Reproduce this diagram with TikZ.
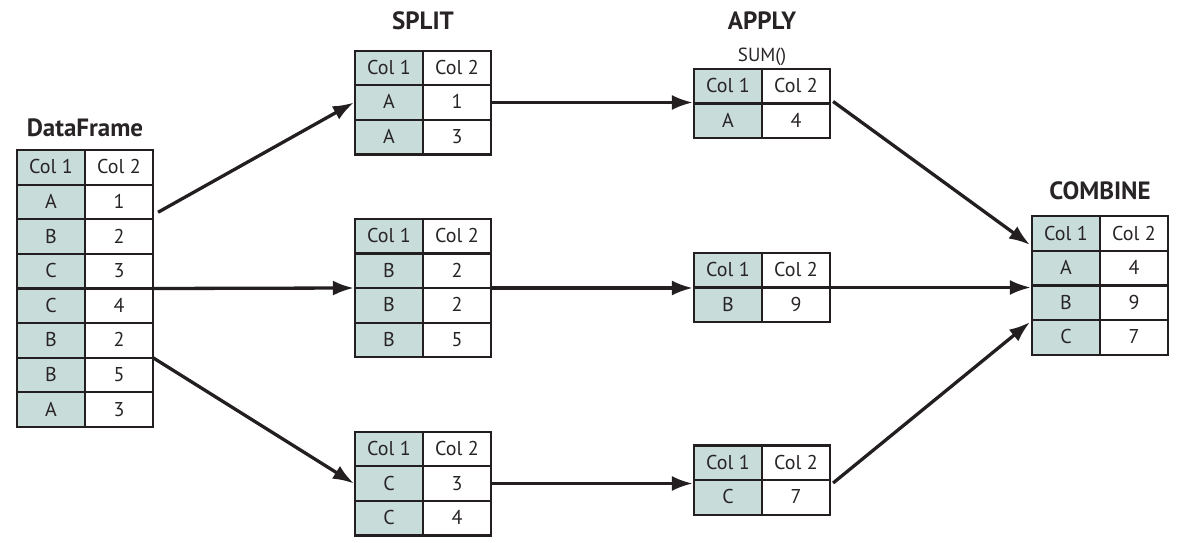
\documentclass[tikz,border=0pt]{standalone}
\usepackage{fontspec}
\setmainfont{PT Sans}
\usetikzlibrary{matrix,arrows.meta,positioning}

\definecolor{keyfill}{RGB}{200,220,218}
\definecolor{inkline}{RGB}{35,31,32}
\definecolor{inktext}{RGB}{40,36,38}

\tikzset{
  cell/.style={draw=inkline, line width=2.2pt, minimum width=68pt, minimum height=34.6pt,
    text height=14pt, text depth=1pt,
    inner sep=0pt, outer sep=0pt, text=inktext, font=\fontsize{20}{23}\selectfont},
  frame/.style={matrix of nodes, nodes={cell}, column sep=-2.2pt, row sep=-2.2pt,
    inner sep=0pt, outer sep=0pt, column 1/.style={nodes={fill=keyfill}}},
  flow/.style={draw=inkline, line width=3.3pt, -{Latex[length=21pt,width=15pt]}},
  heading/.style={anchor=base, text=inktext, font=\fontsize{25}{28}\selectfont\bfseries},
  opname/.style={anchor=base, text=inktext, font=\fontsize{19}{21}\selectfont}
}

\begin{document}
\begin{tikzpicture}[x=1pt,y=-1pt]
\useasboundingbox (0,0) rectangle (1187,543);

% input frame
\matrix (df) [frame] at (85,288.5) {
Col 1 & Col 2 \\
A & 1 \\
B & 2 \\
C & 3 \\
C & 4 \\
B & 2 \\
B & 5 \\
A & 3 \\
};
\node[heading] (dfT) at (85,136) {DataFrame};

% split
\matrix (splitA) [frame] at (423,102.5) {
Col 1 & Col 2 \\
A & 1 \\
A & 3 \\
};
\matrix (splitB) [frame] at (423,288) {
Col 1 & Col 2 \\
B & 2 \\
B & 2 \\
B & 5 \\
};
\matrix (splitC) [frame] at (423,483.5) {
Col 1 & Col 2 \\
C & 3 \\
C & 4 \\
};
\node[heading] (splitT) at (423,30) {SPLIT};

% apply
\matrix (applyA) [frame] at (762,103.5) {
Col 1 & Col 2 \\
A & 4 \\
};
\matrix (applyB) [frame] at (762,287.5) {
Col 1 & Col 2 \\
B & 9 \\
};
\matrix (applyC) [frame] at (762,480) {
Col 1 & Col 2 \\
C & 7 \\
};
\node[heading] (applyT) at (762,30) {APPLY};
\node[opname] (sumT) at (762,62) {SUM()};

% combine
\matrix (comb) [frame] at (1100,285.5) {
Col 1 & Col 2 \\
A & 4 \\
B & 9 \\
C & 7 \\
};
\node[heading] (combT) at (1100,199) {COMBINE};

% arrows
\draw[flow] ([shift={(5,-7)}]df-2-2.south east) -- (splitA.west);
\draw[flow] (df.east) -- (splitB.west);
\draw[flow] (df-6-2.south east) -- (splitC.west);

\draw[flow] (splitA.east) -- (applyA.west |- splitA.east);
\draw[flow] (splitB.east) -- (applyB.west |- splitB.east);
\draw[flow] (splitC.east) -- (applyC.west |- splitC.east);

\draw[flow] ([shift={(2,-2)}]applyA.east) -- ([shift={(-2,-6)}]comb-2-1.north west);
\draw[flow] (applyB.east) -- (comb.west |- applyB.east);
\draw[flow] ([shift={(2,3)}]applyC.east) -- ([shift={(-2,2)}]comb-4-1.north west);

\end{tikzpicture}
\end{document}
